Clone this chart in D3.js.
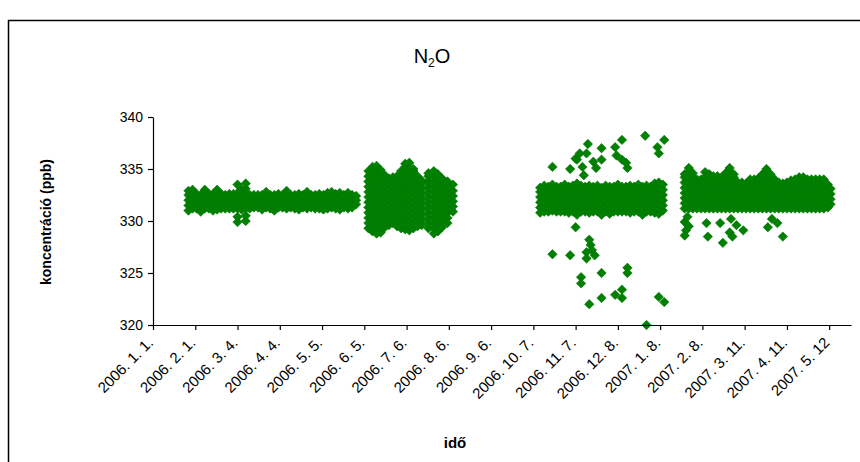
<!DOCTYPE html>
<html><head><meta charset="utf-8">
<script src="https://cdn.jsdelivr.net/npm/d3@7"></script>
<style>
html,body{margin:0;padding:0;background:#fff;}
svg{display:block;}
text{font-family:Arial,"Liberation Sans",sans-serif;fill:#000;}
</style></head>
<body>
<svg id="chart" width="860" height="462"></svg>
<script>
// ---------- DATA ----------
const tickDates = ["2006-01-01","2006-02-01","2006-03-04","2006-04-04","2006-05-05","2006-06-05","2006-07-06","2006-08-06","2006-09-06","2006-10-07","2006-11-07","2006-12-08","2007-01-08","2007-02-08","2007-03-11","2007-04-11","2007-05-12"];
const tickLabels = ["2006. 1. 1.","2006. 2. 1.","2006. 3. 4.","2006. 4. 4.","2006. 5. 5.","2006. 6. 5.","2006. 7. 6.","2006. 8. 6.","2006. 9. 6.","2006. 10. 7.","2006. 11. 7.","2006. 12. 8.","2007. 1. 8.","2007. 2. 8.","2007. 3. 11.","2007. 4. 11.","2007. 5. 12"];
const yTicks = [320,325,330,335,340];

// measurements: [date, concentrations (ppb) recorded around that date]
const period1 = [
 ["2006-01-27",[331.0,331.5,332.0,332.5,332.9]],
 ["2006-01-30",[331.2,331.7,332.2,332.6,333.0]],
 ["2006-02-02",[331.2,331.7,332.2,332.6]],
 ["2006-02-05",[330.9,331.5,332.0,332.5]],
 ["2006-02-08",[331.2,331.7,332.2,332.6,333.0]],
 ["2006-02-11",[331.2,331.7,332.2,332.6]],
 ["2006-02-14",[331.0,331.5,332.0,332.6]],
 ["2006-02-17",[331.1,331.7,332.2,332.6,333.0]],
 ["2006-02-20",[331.2,331.7,332.2,332.6]],
 ["2006-02-23",[331.2,331.7,332.2,332.5]],
 ["2006-02-26",[331.2,331.7,332.2,332.6]],
 ["2006-03-01",[331.2,331.7,332.2,332.6]],
 ["2006-03-04",[329.9,330.4,331.2,331.7,332.2,332.7,333.5]],
 ["2006-03-07",[331.1,331.7,332.2,332.6,333.0]],
 ["2006-03-10",[330.0,330.5,331.2,331.7,332.2,332.7,333.1,333.6]],
 ["2006-03-13",[331.2,331.7,332.2,332.5]],
 ["2006-03-16",[331.3,331.8,332.2,332.5]],
 ["2006-03-19",[331.3,331.8,332.2,332.5]],
 ["2006-03-22",[331.1,331.6,332.1,332.5]],
 ["2006-03-25",[331.3,331.8,332.2,332.8]],
 ["2006-03-28",[331.2,331.7,332.2,332.5]],
 ["2006-03-31",[331.0,331.6,332.1,332.5]],
 ["2006-04-03",[331.3,331.8,332.2,332.6]],
 ["2006-04-06",[331.3,331.8,332.2,332.5]],
 ["2006-04-09",[331.2,331.7,332.2,332.9]],
 ["2006-04-12",[331.3,331.8,332.2,332.5]],
 ["2006-04-15",[331.2,331.7,332.2,332.5]],
 ["2006-04-18",[331.1,331.6,332.1,332.6]],
 ["2006-04-21",[331.3,331.8,332.2,332.5]],
 ["2006-04-24",[331.2,331.7,332.2,332.8]],
 ["2006-04-27",[331.3,331.8,332.2,332.5]],
 ["2006-04-30",[331.2,331.7,332.2,332.5]],
 ["2006-05-03",[331.2,331.7,332.2,332.6]],
 ["2006-05-06",[331.1,331.6,332.1,332.5]],
 ["2006-05-09",[331.2,331.7,332.2,332.7]],
 ["2006-05-12",[331.3,331.8,332.2,332.8]],
 ["2006-05-15",[331.2,331.7,332.2,332.6]],
 ["2006-05-18",[331.1,331.6,332.1,332.7]],
 ["2006-05-21",[331.3,331.8,332.2,332.5]],
 ["2006-05-24",[331.2,331.7,332.2,332.7]],
 ["2006-05-27",[331.3,331.8,332.2,332.5]],
 ["2006-05-30",[331.6,332.0,332.4]]
];
const period2 = [
 ["2006-06-08",[329.3,329.8,330.3,330.8,331.3,331.8,332.3,332.8,333.3,333.8,334.3,334.8]],
 ["2006-06-11",[329.0,329.5,330.0,330.5,331.0,331.5,332.0,332.5,333.0,333.5,334.0,334.6,335.2]],
 ["2006-06-14",[328.8,329.3,329.8,330.3,330.8,331.3,331.8,332.3,332.8,333.3,333.8,334.3,334.8,335.3]],
 ["2006-06-17",[328.9,329.4,329.9,330.4,330.9,331.4,331.9,332.4,332.9,333.4,333.9,334.4,334.9]],
 ["2006-06-20",[329.4,329.9,330.4,330.9,331.4,331.9,332.4,332.9,333.4,333.9,334.4]],
 ["2006-06-23",[329.6,330.1,330.6,331.1,331.6,332.1,332.6,333.1,333.6,334.1]],
 ["2006-06-26",[329.8,330.3,330.8,331.3,331.8,332.3,332.8,333.3,333.8,334.2]],
 ["2006-06-29",[329.5,330.0,330.5,331.0,331.5,332.0,332.5,333.0,333.5,334.0,334.3]],
 ["2006-07-02",[329.3,329.8,330.3,330.8,331.3,331.8,332.3,332.8,333.3,333.8,334.3,334.8]],
 ["2006-07-05",[329.2,329.7,330.2,330.7,331.2,331.7,332.2,332.7,333.2,333.7,334.2,334.7,335.2,335.5]],
 ["2006-07-08",[329.1,329.6,330.1,330.6,331.1,331.6,332.1,332.6,333.1,333.6,334.1,334.6,335.1,335.6]],
 ["2006-07-11",[329.3,329.8,330.3,330.8,331.3,331.8,332.3,332.8,333.3,333.8,334.3,334.8,335.0]],
 ["2006-07-14",[329.5,330.0,330.5,331.0,331.5,332.0,332.5,333.0,333.5,334.0,334.3]],
 ["2006-07-17",[329.6,330.1,330.6,331.1,331.6,332.1,332.6,333.1,333.6,333.9]],
 ["2006-07-22",[329.3,329.8,330.3,330.8,331.3,331.8,332.3,332.8,333.3,333.8,334.3,334.6]],
 ["2006-07-26",[328.8,329.3,329.8,330.3,330.8,331.3,331.8,332.3,332.8,333.3,333.8,334.3,334.8]],
 ["2006-07-29",[329.0,329.5,330.0,330.5,331.0,331.5,332.0,332.5,333.0,333.5,334.0,334.5]],
 ["2006-08-01",[329.4,329.9,330.4,330.9,331.4,331.9,332.4,332.9,333.4,333.9,334.1]],
 ["2006-08-05",[329.8,330.3,330.8,331.3,331.8,332.3,332.8,333.3,333.8]],
 ["2006-08-09",[330.9,331.4,331.9,332.4,332.9,333.5]]
];
const period3 = [
 ["2006-10-12",[330.8,331.3,331.8,332.3,332.8,333.2]],
 ["2006-10-15",[330.9,331.4,331.9,332.4,332.9,333.4]],
 ["2006-10-18",[330.9,331.4,331.9,332.4,332.9,333.3]],
 ["2006-10-21",[331.0,331.5,332.0,332.5,333.0,333.5]],
 ["2006-10-24",[330.9,331.4,331.9,332.4,332.9,333.3]],
 ["2006-10-27",[330.9,331.4,331.9,332.4,332.9,333.3]],
 ["2006-10-30",[330.9,331.4,331.9,332.4,332.9,333.5]],
 ["2006-11-02",[330.8,331.3,331.8,332.3,332.8,333.3]],
 ["2006-11-05",[330.9,331.4,331.9,332.4,332.9,333.4]],
 ["2006-11-08",[330.6,331.2,331.7,332.2,332.7,333.2,333.6]],
 ["2006-11-11",[330.9,331.4,331.9,332.4,332.9,333.4]],
 ["2006-11-14",[330.9,331.4,331.9,332.4,332.9,333.3]],
 ["2006-11-17",[330.8,331.3,331.8,332.3,332.8,333.4]],
 ["2006-11-20",[330.9,331.4,331.9,332.4,332.9,333.3]],
 ["2006-11-23",[330.9,331.4,331.9,332.4,332.9,333.4]],
 ["2006-11-26",[330.6,331.2,331.7,332.2,332.7,333.2]],
 ["2006-11-29",[330.9,331.4,331.9,332.4,332.9,333.4]],
 ["2006-12-02",[330.7,331.2,331.7,332.2,332.7,333.3]],
 ["2006-12-05",[330.9,331.4,331.9,332.4,332.9,333.3]],
 ["2006-12-08",[330.9,331.4,331.9,332.4,332.9,333.5]],
 ["2006-12-11",[330.9,331.4,331.9,332.4,332.9,333.3]],
 ["2006-12-14",[330.9,331.4,331.9,332.4,332.9,333.3]],
 ["2006-12-17",[330.8,331.3,331.8,332.3,332.8,333.4]],
 ["2006-12-20",[330.9,331.4,331.9,332.4,332.9,333.3]],
 ["2006-12-23",[330.9,331.4,331.9,332.4,332.9,333.5]],
 ["2006-12-26",[330.6,331.2,331.7,332.2,332.7,333.3]],
 ["2006-12-29",[330.9,331.4,331.9,332.4,332.9,333.4]],
 ["2007-01-01",[330.9,331.4,331.9,332.4,332.9,333.3]],
 ["2007-01-04",[330.8,331.3,331.8,332.3,332.8,333.6]],
 ["2007-01-07",[330.7,331.2,331.7,332.2,332.7,333.2,333.7]],
 ["2007-01-10",[331.0,331.5,332.0,332.5,333.0,333.5]]
];
const period3Extremes = [
 ["2006-10-21",335.2],["2006-11-03",335.0],["2006-11-10",336.5],["2006-11-08",335.9],["2006-11-16",337.4],
 ["2006-11-15",336.5],["2006-11-26",337.0],["2006-11-20",335.7],["2006-11-26",335.9],["2006-11-22",335.1],
 ["2006-11-12",335.2],["2006-11-13",334.4],["2006-11-07",336.0],
 ["2006-12-06",337.1],["2006-12-11",337.8],["2006-12-07",336.3],["2006-12-11",335.9],["2006-12-15",335.1],
 ["2006-12-14",335.6],["2006-12-28",338.2],["2007-01-11",337.8],["2007-01-06",337.1],["2007-01-07",336.5],
 ["2006-11-07",329.4],["2006-10-21",326.8],["2006-11-03",326.7],["2006-11-18",327.7],["2006-11-15",327.0],
 ["2006-11-21",326.7],["2006-11-15",326.4],["2006-11-17",328.2],["2006-11-19",327.2],
 ["2006-11-11",324.6],["2006-11-11",324.0],["2006-11-26",325.0],["2006-12-15",325.5],["2006-12-15",325.0],
 ["2006-11-17",322.0],["2006-11-26",322.6],["2006-12-06",322.9],["2006-12-11",323.4],["2006-12-11",322.6],
 ["2007-01-07",322.7],["2007-01-11",322.2],["2006-12-29",320.0]
];
const period4 = [
 ["2007-01-26",[331.2,331.7,332.2,332.7,333.2,333.7,334.2,334.5]],
 ["2007-01-29",[331.2,331.7,332.2,332.7,333.2,333.7,334.2,334.7,335.1]],
 ["2007-02-01",[331.2,331.7,332.2,332.7,333.2,333.7,334.2,334.6]],
 ["2007-02-04",[331.2,331.7,332.2,332.7,333.2,333.7,334.0]],
 ["2007-02-07",[331.2,331.7,332.2,332.7,333.2,333.7,334.0]],
 ["2007-02-10",[331.2,331.7,332.2,332.7,333.2,333.7,334.2,334.7]],
 ["2007-02-13",[331.2,331.7,332.2,332.7,333.2,333.7,334.2,334.5]],
 ["2007-02-16",[331.2,331.7,332.2,332.7,333.2,333.7,334.3]],
 ["2007-02-19",[331.2,331.7,332.2,332.7,333.2,333.7,334.3]],
 ["2007-02-22",[331.2,331.7,332.2,332.7,333.2,333.7,334.2]],
 ["2007-02-25",[331.2,331.7,332.2,332.7,333.2,333.7,334.2,334.6]],
 ["2007-02-28",[331.2,331.7,332.2,332.7,333.2,333.7,334.2,334.7,335.1]],
 ["2007-03-03",[331.2,331.7,332.2,332.7,333.2,333.7,334.2,334.5]],
 ["2007-03-06",[331.2,331.7,332.2,332.7,333.2,333.7]],
 ["2007-03-09",[331.2,331.7,332.2,332.7,333.2,333.7]],
 ["2007-03-12",[331.2,331.7,332.2,332.7,333.2,333.6]],
 ["2007-03-15",[331.2,331.7,332.2,332.7,333.2,333.7,334.0]],
 ["2007-03-18",[331.2,331.7,332.2,332.7,333.2,333.7,334.0]],
 ["2007-03-21",[331.2,331.7,332.2,332.7,333.2,333.7,334.1]],
 ["2007-03-24",[331.2,331.7,332.2,332.7,333.2,333.7,334.2,334.5]],
 ["2007-03-27",[331.2,331.7,332.2,332.7,333.2,333.7,334.2,334.7,335.0]],
 ["2007-03-30",[331.2,331.7,332.2,332.7,333.2,333.7,334.2,334.5]],
 ["2007-04-02",[331.2,331.7,332.2,332.7,333.2,333.7,334.0]],
 ["2007-04-05",[331.2,331.7,332.2,332.7,333.2,333.7]],
 ["2007-04-08",[331.2,331.7,332.2,332.7,333.2,333.6]],
 ["2007-04-11",[331.2,331.7,332.2,332.7,333.2,333.7]],
 ["2007-04-14",[331.2,331.7,332.2,332.7,333.2,333.7,333.9]],
 ["2007-04-17",[331.2,331.7,332.2,332.7,333.2,333.7,334.0]],
 ["2007-04-20",[331.2,331.7,332.2,332.7,333.2,333.7,334.2]],
 ["2007-04-23",[331.2,331.7,332.2,332.7,333.2,333.7,334.2]],
 ["2007-04-26",[331.2,331.7,332.2,332.7,333.2,333.7,334.0]],
 ["2007-04-29",[331.2,331.7,332.2,332.7,333.2,333.7,334.0]],
 ["2007-05-02",[331.2,331.7,332.2,332.7,333.2,333.7,334.0]],
 ["2007-05-05",[331.2,331.7,332.2,332.7,333.2,333.7,334.0]],
 ["2007-05-08",[331.2,331.7,332.2,332.7,333.2,333.7,334.0]],
 ["2007-05-11",[331.3,331.8,332.3,332.8,333.3,333.5]],
 ["2007-05-13",[331.6,332.1,332.6,333.1]]
];
const period4Extremes = [
 ["2007-01-26",329.9],["2007-01-27",329.1],["2007-01-26",328.6],["2007-01-29",329.5],["2007-01-28",330.4],
 ["2007-02-11",329.8],["2007-02-12",328.5],["2007-02-21",329.8],["2007-02-23",327.9],["2007-02-28",328.9],
 ["2007-03-02",328.5],["2007-03-05",329.6],["2007-03-10",329.1],["2007-03-28",329.4],["2007-04-04",329.8],
 ["2007-04-08",328.5],["2007-03-01",330.2],["2007-03-31",330.2]
];

// ---------- CHART ----------
const parse = d3.utcParse("%Y-%m-%d");
const svg = d3.select("#chart");
svg.append("rect").attr("x",0).attr("y",0).attr("width",860).attr("height",462).attr("fill","#fff");
svg.append("rect").attr("x",8.5).attr("y",20.5).attr("width",900).attr("height",500)
  .attr("fill","none").attr("stroke","#000").attr("stroke-width",1.5);

const x = d3.scaleUtc().domain([parse("2006-01-01"), parse("2007-05-28")]).range([153, 851]);
const y = d3.scaleLinear().domain([320, 340]).range([325, 117]);

const points = [];
[period1, period2, period3, period4].forEach(p => p.forEach(([d, vals]) => vals.forEach(v => points.push([parse(d), v]))));
[period3Extremes, period4Extremes].forEach(p => p.forEach(([d, v]) => points.push([parse(d), v])));

const r = 4.7;
const diamond = `M0,${-r}L${r},0L0,${r}L${-r},0Z`;
svg.append("g").selectAll("path").data(points).join("path")
  .attr("d", diamond)
  .attr("transform", d => `translate(${x(d[0])},${y(d[1])})`)
  .attr("fill", "#008000").attr("stroke", "#007400").attr("stroke-width", 0.6);

// axes
const xAxis = svg.append("g").attr("transform","translate(0,325)")
  .call(d3.axisBottom(x).tickValues(tickDates.map(parse)).tickFormat((d,i)=>tickLabels[i]).tickSize(5).tickSizeOuter(0));
xAxis.selectAll("text").attr("x",0).attr("y",0).attr("dy","0.35em")
  .attr("text-anchor","end").attr("transform","translate(-3,15) rotate(-45)")
  .style("font-size","15px").style("font-family","Arial, 'Liberation Sans', sans-serif");
const yAxis = svg.append("g").attr("transform","translate(153,0)")
  .call(d3.axisLeft(y).tickValues(yTicks).tickSize(5).tickSizeOuter(0).tickPadding(5));
yAxis.selectAll("text").style("font-size","14px").style("font-family","Arial, 'Liberation Sans', sans-serif");
svg.selectAll(".domain, .tick line").attr("stroke","#000").attr("stroke-width",1.2);

// titles
const title = svg.append("text").attr("x",432).attr("y",63).attr("text-anchor","middle").style("font-size","20px");
title.append("tspan").text("N");
title.append("tspan").attr("dy",4).style("font-size","12px").text("2");
title.append("tspan").attr("dy",-4).text("O");

svg.append("text").attr("transform","translate(51,222) rotate(-90)").attr("text-anchor","middle")
  .style("font-size","14px").style("font-weight","bold").text("koncentráció (ppb)");
svg.append("text").attr("x",455).attr("y",448).attr("text-anchor","middle")
  .style("font-size","15px").style("font-weight","bold").text("idő");
</script>
</body></html>
